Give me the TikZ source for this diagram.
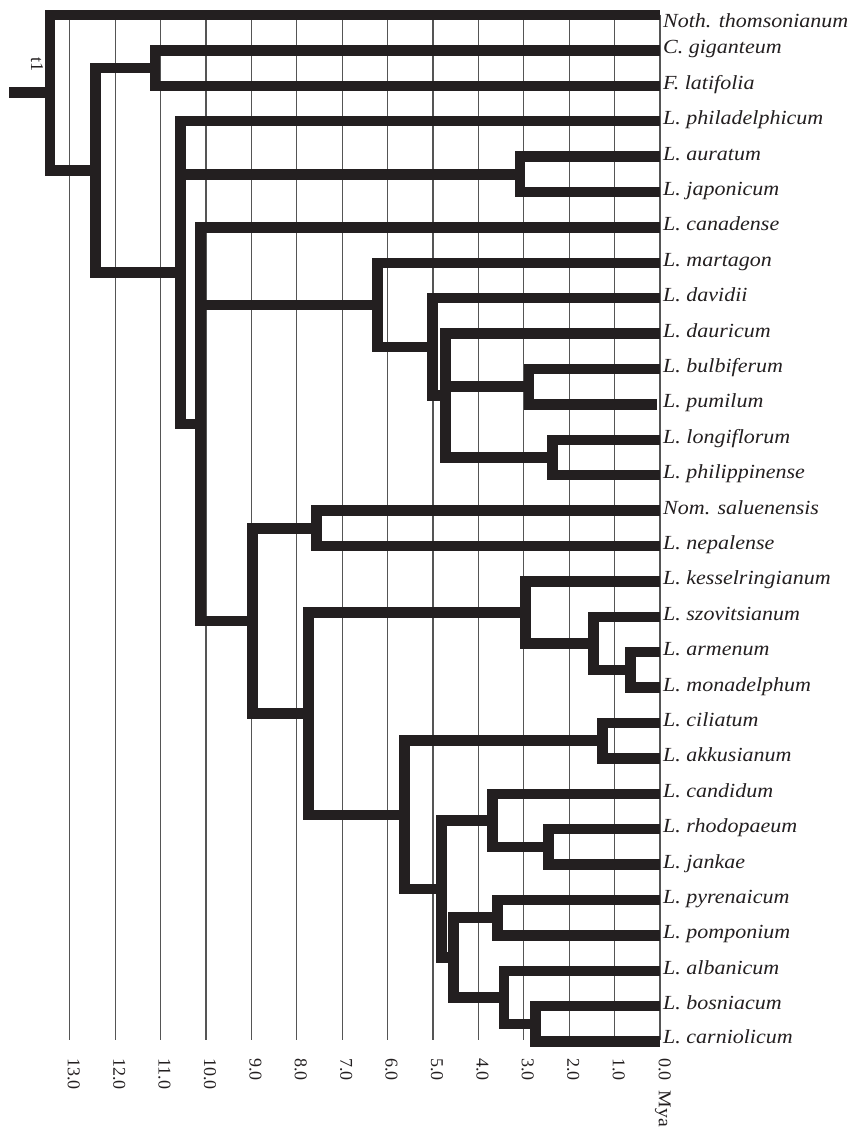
\documentclass[tikz,border=0pt]{standalone}
\usepackage{fontspec}
\setmainfont{Liberation Serif}
\usepackage{graphicx}
\definecolor{br}{HTML}{231F20}
\definecolor{gr}{HTML}{555555}
\newcommand{\taxlab}[1]{\scalebox{1.1}[1]{#1}}
\begin{document}
\begin{tikzpicture}[x=1pt,y=-1pt,
  branch/.style={draw=br,line width=10.5pt,line cap=rect,line join=miter},
  gridline/.style={draw=gr,line width=1.1pt},
  taxon/.style={anchor=base west,inner sep=0pt,text=br,font=\fontsize{20}{22}\selectfont\itshape},
  axislab/.style={anchor=west,rotate=-90,inner sep=0pt,text=br,font=\fontsize{18}{20}\selectfont}]
\useasboundingbox[fill=white] (0,0) rectangle (848,1132);
% grid
\foreach \t in {0,...,13}
  \draw[gridline] ({660-45.4*\t},15) -- ({660-45.4*\t},1040);
% tips
\foreach \i in {0,...,29}
  \coordinate (tp\i) at (655,{15+35.4*\i});
\coordinate (tp11) at (652,404.4);
% internal nodes
\coordinate (nCF)   at (155,68.1);
\coordinate (nAJ)   at (520,174.3);
\coordinate (nBP)   at (529.2,386.7);
\coordinate (nLP)   at (552.3,457.5);
\coordinate (nDau)  at (445.3,395.55);
\coordinate (nDav)  at (432.3,346.875);
\coordinate (nMart) at (377.3,304.84);
\coordinate (nSN)   at (316.7,528.3);
\coordinate (nAM)   at (630.7,669.9);
\coordinate (nSzo)  at (593.7,643.35);
\coordinate (nKes)  at (525.3,612.375);
\coordinate (nCA)   at (602.3,740.7);
\coordinate (nRJ)   at (548.3,846.9);
\coordinate (nCand) at (492.7,820.35);
\coordinate (nPP)   at (497.5,917.7);
\coordinate (nBC)   at (535.5,1023.9);
\coordinate (nAlb)  at (503.8,997.35);
\coordinate (nF)    at (453.3,957.525);
\coordinate (nE)    at (441.5,888.94);
\coordinate (nD)    at (404.7,814.82);
\coordinate (nC)    at (308.7,713.6);
\coordinate (nB)    at (252.7,620.95);
\coordinate (nA)    at (200.3,424.18);
\coordinate (nL)    at (180.5,272.69);
\coordinate (nG)    at (95.3,170.4);
\coordinate (root)  at (50,92.7);
\coordinate (stem)  at (14.5,92.7);
% branches
\foreach \n/\a/\b in {root/tp0/nG, nG/nCF/nL, nCF/tp1/tp2, nL/tp3/nA, nAJ/tp4/tp5,
  nA/tp6/nB, nMart/tp7/nDav, nDav/tp8/nDau, nDau/tp9/nLP, nBP/tp10/tp11, nLP/tp12/tp13,
  nB/nSN/nC, nSN/tp14/tp15, nC/nKes/nD, nKes/tp16/nSzo, nSzo/tp17/nAM, nAM/tp18/tp19,
  nD/nCA/nE, nCA/tp20/tp21, nE/nCand/nF, nCand/tp22/nRJ, nRJ/tp23/tp24,
  nF/nPP/nAlb, nPP/tp25/tp26, nAlb/tp27/nBC, nBC/tp28/tp29}
  \draw[branch] (\a) -- (\n |- \a) -- (\n |- \b) -- (\b);
\draw[branch] (nL |- nAJ) -- (nAJ);
\draw[branch] (nA |- nMart) -- (nMart);
\draw[branch] (nDau |- nBP) -- (nBP);
\draw[branch] (stem) -- (root);
% labels
\node[taxon] (L0) at ([xshift=8pt,yshift=-13pt]tp0) {\taxlab{Noth. thomsonianum}};
\foreach \i/\s in {1/C. giganteum, 2/F. latifolia, 3/L. philadelphicum, 4/L. auratum,
  5/L. japonicum, 6/L. canadense, 7/L. martagon, 8/L. davidii, 9/L. dauricum,
  10/L. bulbiferum, 12/L. longiflorum, 13/L. philippinense,
  14/Nom. saluenensis, 15/L. nepalense, 16/L. kesselringianum, 17/L. szovitsianum,
  18/L. armenum, 19/L. monadelphum, 20/L. ciliatum, 21/L. akkusianum, 22/L. candidum,
  23/L. rhodopaeum, 24/L. jankae, 25/L. pyrenaicum, 26/L. pomponium, 27/L. albanicum,
  28/L. bosniacum}
  \node[taxon] (L\i) at ([xshift=8pt,yshift=-3.5pt]tp\i) {\taxlab{\s}};
\node[taxon] (L11) at ([xshift=11pt,yshift=-3.5pt]tp11) {\taxlab{L. pumilum}};
\node[taxon] (L29) at ([xshift=8pt,yshift=-1.5pt]tp29) {\taxlab{L. carniolicum}};
% axis labels
\foreach \t in {1,...,13}
  \node[axislab] (ax\t) at ({664-45.4*\t},1058) {\t.0};
\node[axislab] (ax0) at (663,1058) {0.0\hspace{10pt}\scalebox{1.1}[1]{Mya}};
\node[axislab] (tlab) at (37,57) {t1};
\end{tikzpicture}
\end{document}
